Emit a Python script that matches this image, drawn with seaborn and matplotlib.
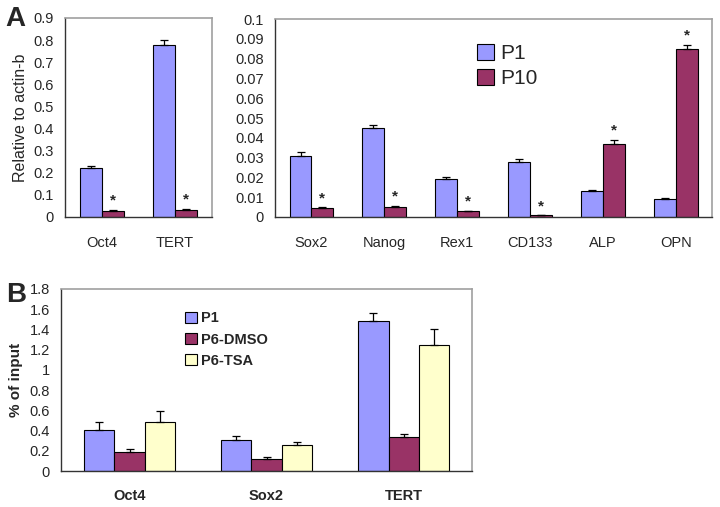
import seaborn as sns
import pandas as pd
import numpy as np
import matplotlib.pyplot as plt

# panel A, left part
genes_a1 = ["Oct4", "TERT"]
p1_a1 = [0.22, 0.78]
p1_a1_err = [0.010, 0.022]
p10_a1 = [0.025, 0.030]
p10_a1_err = [0.008, 0.008]

# panel A, right part
genes_a2 = ["Sox2", "Nanog", "Rex1", "CD133", "ALP", "OPN"]
p1_a2 = [0.031, 0.045, 0.019, 0.028, 0.013, 0.009]
p1_a2_err = [0.0018, 0.0013, 0.0013, 0.0013, 0.0008, 0.0004]
p10_a2 = [0.0045, 0.0053, 0.0030, 0.0008, 0.037, 0.085]
p10_a2_err = [0.0004, 0.0005, 0.0002, 0.0001, 0.0020, 0.0020]

# panel B
genes_b = ["Oct4", "Sox2", "TERT"]
b_p1 = [0.41, 0.31, 1.48]
b_p1_err = [0.07, 0.04, 0.08]
b_dmso = [0.19, 0.12, 0.34]
b_dmso_err = [0.03, 0.02, 0.03]
b_tsa = [0.48, 0.26, 1.25]
b_tsa_err = [0.11, 0.03, 0.15]

colors = {"P1": "#9999FF", "P10": "#993366", "P6-DMSO": "#993366", "P6-TSA": "#FFFFCC"}

sns.set_theme(style="white")
plt.rcParams['font.family'] = ['Liberation Sans', 'DejaVu Sans']


def make_df(genes, groups):
    rows = []
    for name, vals, errs in groups:
        for g, v, e in zip(genes, vals, errs):
            rows.append({"gene": g, "group": name, "val": v, "err": e})
    return pd.DataFrame(rows)


def draw(ax, df, genes, width, ymax, yticks, ylabels, stars=None, xbold=False):
    order = list(dict.fromkeys(df["group"]))
    sns.barplot(data=df, x="gene", y="val", hue="group", order=genes, hue_order=order,
                palette=colors, width=width, edgecolor="black", linewidth=0.8,
                errorbar=None, legend=False, ax=ax, saturation=1)
    for cont, name in zip(ax.containers, order):
        sub = df[df["group"] == name].set_index("gene").loc[genes]
        xs = [b.get_x() + b.get_width() / 2 for b in cont]
        ax.errorbar(xs, sub["val"], yerr=[np.zeros(len(xs)), sub["err"]], fmt="none",
                    ecolor="black", elinewidth=0.9, capsize=3, capthick=0.9)
        if stars == name:
            for x, v, e in zip(xs, sub["val"], sub["err"]):
                ax.text(x, v + e + ymax * 0.01, "*", ha="center", va="bottom",
                        fontsize=11, fontweight="bold")
    ax.set_xlim(-0.5, len(genes) - 0.5)
    ax.set_ylim(0, ymax)
    ax.set_yticks(yticks)
    ax.set_yticklabels(ylabels, fontsize=10.5)
    ax.set_xticks(range(len(genes)))
    ax.set_xticklabels(genes, fontsize=10.5, fontweight="bold" if xbold else "normal")
    ax.set_xticks(np.arange(0.5, len(genes) - 0.5, 1), minor=True)
    ax.tick_params(axis="x", which="major", length=0, pad=14)
    ax.tick_params(axis="x", which="minor", direction="in", length=4, width=0.9, color="#222222")
    ax.tick_params(axis="y", direction="in", length=3, width=0.9, color="#222222", pad=8)
    ax.set_xlabel("")
    ax.set_ylabel("")
    for s in ["top", "right"]:
        ax.spines[s].set_color("#A0A0A0")
        ax.spines[s].set_linewidth(1.2)
    for s in ["left", "bottom"]:
        ax.spines[s].set_color("#333333")
        ax.spines[s].set_linewidth(1.0)


fig = plt.figure(figsize=(7.2, 5.07), dpi=100)

ax1 = fig.add_axes([0.0903, 0.572, 0.204, 0.3925])
df1 = make_df(genes_a1, [("P1", p1_a1, p1_a1_err), ("P10", p10_a1, p10_a1_err)])
draw(ax1, df1, genes_a1, 0.6, 0.9, np.arange(0, 0.95, 0.1),
     ["0"] + ["%.1f" % v for v in np.arange(0.1, 0.95, 0.1)], stars="P10")
ax1.set_ylabel("Relative to actin-b", fontsize=11.5, labelpad=4)

ax2 = fig.add_axes([0.382, 0.572, 0.607, 0.3905])
df2 = make_df(genes_a2, [("P1", p1_a2, p1_a2_err), ("P10", p10_a2, p10_a2_err)])
draw(ax2, df2, genes_a2, 0.6, 0.1, np.arange(0, 0.105, 0.01),
     ["0"] + ["%.2f" % v for v in np.arange(0.01, 0.095, 0.01)] + ["0.1"], stars="P10")
handles = [plt.Rectangle((0, 0), 1, 1, facecolor=colors[k], edgecolor="black", linewidth=0.8)
           for k in ["P1", "P10"]]
ax2.legend(handles, ["P1", "P10"], loc="upper left", bbox_to_anchor=(0.42, 0.97),
           frameon=False, fontsize=15, handlelength=0.8, handleheight=0.8,
           handletextpad=0.3, labelspacing=0.3)

ax3 = fig.add_axes([0.0847, 0.071, 0.571, 0.359])
df3 = make_df(genes_b, [("P1", b_p1, b_p1_err), ("P6-DMSO", b_dmso, b_dmso_err),
                        ("P6-TSA", b_tsa, b_tsa_err)])
draw(ax3, df3, genes_b, 0.66, 1.8, np.arange(0, 1.85, 0.2),
     ["0", "0.2", "0.4", "0.6", "0.8", "1", "1.2", "1.4", "1.6", "1.8"], xbold=True)
ax3.tick_params(axis="x", which="major", pad=13)
ax3.set_ylabel("% of input", fontsize=11, fontweight="bold", labelpad=5)
handles = [plt.Rectangle((0, 0), 1, 1, facecolor=colors[k], edgecolor="black", linewidth=0.8)
           for k in ["P1", "P6-DMSO", "P6-TSA"]]
ax3.legend(handles, ["P1", "P6-DMSO", "P6-TSA"], loc="upper left", bbox_to_anchor=(0.27, 0.95),
           frameon=False, prop={"size": 10.5, "weight": "bold"}, handlelength=0.8,
           handleheight=0.8, handletextpad=0.3, labelspacing=0.5)

fig.text(0.008, 0.948, "A", fontsize=20, fontweight="bold")
fig.text(0.008, 0.405, "B", fontsize=20, fontweight="bold")

fig.savefig("out.png", dpi=100)
